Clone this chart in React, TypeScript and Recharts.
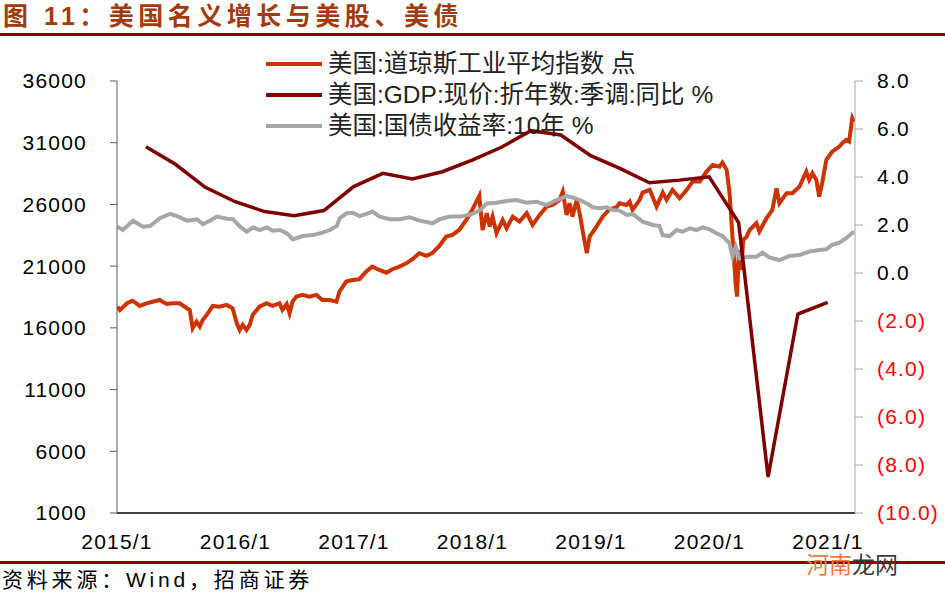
import React from "react";
import { LineChart, Line, XAxis, YAxis } from "recharts";

// 道琼斯工业平均指数（点）
const dowDates = [
  "2015-01-02", "2015-01-10", "2015-02-01", "2015-02-18", "2015-03-12", "2015-04-02", "2015-04-21",
  "2015-05-12", "2015-06-03", "2015-06-21", "2015-07-13", "2015-08-04", "2015-08-13", "2015-08-22",
  "2015-09-03", "2015-09-13", "2015-09-22", "2015-10-04", "2015-10-23", "2015-11-13", "2015-12-05",
  "2015-12-23", "2016-01-05", "2016-01-14", "2016-01-23", "2016-02-04", "2016-02-14", "2016-02-23",
  "2016-03-15", "2016-04-06", "2016-04-24", "2016-05-16", "2016-05-25", "2016-06-07", "2016-06-16",
  "2016-06-25", "2016-07-07", "2016-07-26", "2016-08-16", "2016-09-07", "2016-09-25", "2016-10-17",
  "2016-11-08", "2016-11-17", "2016-12-08", "2016-12-27", "2017-01-17", "2017-02-08", "2017-02-26",
  "2017-03-20", "2017-04-11", "2017-04-29", "2017-05-21", "2017-06-11", "2017-06-30", "2017-07-21",
  "2017-08-12", "2017-08-30", "2017-09-21", "2017-10-12", "2017-10-31", "2017-11-21", "2017-12-13",
  "2017-12-31", "2018-01-22", "2018-02-01", "2018-02-14", "2018-02-23", "2018-03-04", "2018-03-16",
  "2018-04-04", "2018-04-16", "2018-05-05", "2018-05-26", "2018-06-17", "2018-07-05", "2018-07-27",
  "2018-08-17", "2018-09-05", "2018-09-26", "2018-10-06", "2018-10-18", "2018-10-27", "2018-11-05",
  "2018-11-18", "2018-11-27", "2018-12-06", "2018-12-19", "2018-12-28", "2019-01-18", "2019-02-06",
  "2019-02-27", "2019-03-21", "2019-03-30", "2019-04-21", "2019-04-30", "2019-05-09", "2019-05-31",
  "2019-06-09", "2019-07-01", "2019-07-22", "2019-08-10", "2019-08-22", "2019-09-09", "2019-10-01",
  "2019-10-23", "2019-11-10", "2019-12-02", "2019-12-23", "2020-01-11", "2020-02-01", "2020-02-10",
  "2020-02-23", "2020-03-03", "2020-03-12", "2020-03-22", "2020-03-26", "2020-04-01", "2020-04-09",
  "2020-04-14", "2020-04-25", "2020-05-04", "2020-05-25", "2020-06-03", "2020-06-25", "2020-07-13",
  "2020-07-26", "2020-08-04", "2020-08-26", "2020-09-13", "2020-10-05", "2020-10-26", "2020-11-04",
  "2020-11-14", "2020-11-26", "2020-12-05", "2020-12-14", "2020-12-27", "2021-01-14", "2021-02-05",
  "2021-02-14", "2021-02-26", "2021-03-07", "2021-03-17", "2021-03-23",
];
const dowValues = [
  17720, 17450, 17990, 18200, 17775, 17990, 18120,
  18260, 17940, 17990, 17990, 17590, 17450, 15970,
  16500, 16100, 16640, 17040, 17775, 17720, 17860,
  17590, 16370, 15830, 16240, 15830, 16240, 17040,
  17720, 17990, 17775, 17990, 17450, 17940, 17180,
  18120, 18530, 18670, 18530, 18670, 18260, 18260,
  18120, 18930, 19750, 19880, 19940, 20560, 20960,
  20690, 20470, 20750, 20960, 21230, 21560, 22050,
  21830, 22050, 22640, 23400, 23530, 23930, 24740,
  25550, 26700, 23930, 25290, 24200, 25010, 23670,
  24740, 24070, 25010, 24610, 25290, 24340, 25150,
  25820, 25960, 26370, 27040, 25150, 26100, 25010,
  26370, 25290, 23930, 22050, 23400, 24200, 25010,
  25610, 25770, 26100, 25960, 26230, 25550, 26370,
  26960, 27180, 25820, 26960, 26370, 27180, 26500,
  27180, 27850, 27850, 28660, 29200, 29060, 29390,
  28800, 26910, 23390, 19500, 18530, 22310, 20690,
  23120, 23390, 23930, 24480, 23800, 24880, 25550,
  27310, 26100, 26910, 26910, 27450, 28660, 27990,
  28530, 27990, 26630, 27720, 29610, 30280, 30690,
  30960, 31230, 31090, 32990, 32680,
];

// GDP 现价折年数季调同比（%），季末
const gdpQuarters = [
  "2015-03-31", "2015-06-30", "2015-09-30", "2015-12-31",
  "2016-03-31", "2016-06-30", "2016-09-30", "2016-12-31",
  "2017-03-31", "2017-06-30", "2017-09-30", "2017-12-31",
  "2018-03-31", "2018-06-30", "2018-09-30", "2018-12-31",
  "2019-03-31", "2019-06-30", "2019-09-30", "2019-12-31",
  "2020-03-31", "2020-06-30", "2020-09-30", "2020-12-31",
];
const gdpValues = [
  5.26, 4.53, 3.57, 2.97,
  2.56, 2.39, 2.6, 3.6,
  4.15, 3.92, 4.22, 4.7,
  5.24, 5.93, 5.75, 4.89,
  4.36, 3.76, 3.87, 4.01,
  2.1, -8.5, -1.71, -1.22,
];

// 10年期国债收益率（%）
const yieldDates = [
  "2015-01-02", "2015-01-19", "2015-02-19", "2015-03-22", "2015-04-13", "2015-05-13", "2015-06-13",
  "2015-07-05", "2015-08-05", "2015-09-04", "2015-09-23", "2015-10-14", "2015-11-05", "2015-12-06",
  "2015-12-24", "2016-01-15", "2016-02-05", "2016-02-24", "2016-03-16", "2016-04-07", "2016-04-25",
  "2016-05-17", "2016-06-08", "2016-06-26", "2016-07-27", "2016-08-27", "2016-09-26", "2016-10-18",
  "2016-11-09", "2016-11-18", "2016-12-09", "2016-12-28", "2017-01-18", "2017-02-09", "2017-02-27",
  "2017-03-21", "2017-04-21", "2017-05-22", "2017-06-21", "2017-07-22", "2017-08-31", "2017-09-22",
  "2017-10-23", "2017-11-22", "2017-12-23", "2018-01-23", "2018-02-14", "2018-03-16", "2018-04-16",
  "2018-05-17", "2018-06-17", "2018-07-18", "2018-08-17", "2018-09-17", "2018-10-18", "2018-11-05",
  "2018-11-27", "2018-12-19", "2019-01-06", "2019-01-28", "2019-02-18", "2019-03-09", "2019-03-30",
  "2019-04-21", "2019-05-09", "2019-06-09", "2019-07-10", "2019-07-31", "2019-08-10", "2019-08-31",
  "2019-09-22", "2019-10-10", "2019-11-01", "2019-11-22", "2019-12-11", "2020-01-01", "2020-01-23",
  "2020-02-10", "2020-03-03", "2020-03-12", "2020-03-22", "2020-04-03", "2020-04-25", "2020-05-25",
  "2020-06-13", "2020-07-04", "2020-08-04", "2020-09-04", "2020-10-05", "2020-11-04", "2020-12-05",
  "2020-12-27", "2021-01-14", "2021-02-05", "2021-02-26", "2021-03-17", "2021-03-23",
];
const yieldValues = [
  1.93, 1.79, 2.18, 1.93, 1.96, 2.28, 2.46,
  2.37, 2.18, 2.24, 2.04, 2.18, 2.35, 2.26,
  2.24, 1.93, 1.72, 1.9, 1.79, 1.9, 1.76,
  1.79, 1.65, 1.4, 1.54, 1.58, 1.68, 1.79,
  1.96, 2.28, 2.49, 2.51, 2.37, 2.46, 2.56,
  2.35, 2.24, 2.24, 2.32, 2.18, 2.07, 2.24,
  2.35, 2.35, 2.42, 2.6, 2.9, 2.93, 3.0,
  3.04, 2.93, 2.97, 2.83, 3.04, 3.2, 3.15,
  3.04, 2.9, 2.74, 2.7, 2.74, 2.63, 2.6,
  2.42, 2.46, 2.14, 2.0, 1.96, 1.58, 1.54,
  1.79, 1.72, 1.86, 1.79, 1.9, 1.82, 1.65,
  1.54, 1.24, 0.68, 1.1, 0.61, 0.68, 0.68,
  0.85, 0.65, 0.54, 0.71, 0.75, 0.89, 0.96,
  0.99, 1.17, 1.26, 1.45, 1.68, 1.68,
];

const yearTicks = [2015, 2016, 2017, 2018, 2019, 2020, 2021];
const leftTicks = [1000, 6000, 11000, 16000, 21000, 26000, 31000, 36000];
const rightTicks = [-10, -8, -6, -4, -2, 0, 2, 4, 6, 8];

const DOW = "#CC3300";
const GDP = "#800000";
const YLD = "#A6A6A6";
const LATIN = "'Liberation Sans', Arial, 'Noto Sans CJK SC', sans-serif";

const toYear = (d: string) => {
  const [y, m, day] = d.split("-").map(Number);
  const start = Date.UTC(y, 0, 1);
  const end = Date.UTC(y + 1, 0, 1);
  return y + (Date.UTC(y, m - 1, day) - start) / (end - start);
};

const dowData = dowDates.map((d, i) => ({ x: toYear(d), v: dowValues[i] }));
const gdpData = gdpQuarters.map((d, i) => ({ x: toYear(d), v: gdpValues[i] }));
const yieldData = yieldDates.map((d, i) => ({ x: toYear(d), v: yieldValues[i] }));

const legendItems = [
  { label: "美国:道琼斯工业平均指数 点", color: DOW },
  { label: "美国:GDP:现价:折年数:季调:同比 %", color: GDP },
  { label: "美国:国债收益率:10年 %", color: YLD },
];

const tickStyle = { fontSize: 21, fill: "#000", fontFamily: LATIN, letterSpacing: 1.2 };

const RightTick = (props: any) => {
  const { x, y, payload } = props;
  const v = payload.value as number;
  const neg = v < 0;
  return (
    <text
      x={x}
      y={y}
      dy="0.355em"
      textAnchor="start"
      fill={neg ? "#FF0000" : "#000"}
      style={{ fontSize: 21, fontFamily: LATIN, letterSpacing: 1.2 }}
    >
      {neg ? `(${Math.abs(v).toFixed(1)})` : v.toFixed(1)}
    </text>
  );
};

export default function App() {
  return (
    <div
      style={{
        position: "absolute",
        left: 0,
        top: 0,
        width: 945,
        height: 594,
        background: "#fff",
        overflow: "hidden",
      }}
    >
      <div
        style={{
          position: "absolute",
          left: 3,
          top: 0,
          height: 33,
          lineHeight: "33px",
          fontSize: 25,
          fontWeight: 700,
          letterSpacing: 4.5,
          color: "#A33A0B",
          fontFamily: LATIN,
          whiteSpace: "nowrap",
        }}
      >
        图 11：美国名义增长与美股、美债
      </div>
      <div style={{ position: "absolute", left: 0, top: 33, width: 945, height: 3, background: "#8B0000" }} />

      <LineChart width={945} height={594} margin={{ top: 81, right: 0, bottom: 31, left: 0 }}>
        <XAxis
          type="number"
          dataKey="x"
          domain={[2015, 2021.228]}
          allowDataOverflow
          ticks={yearTicks}
          interval={0}
          tickFormatter={(v) => `${v}/1`}
          height={50}
          tickLine={false}
          tickSize={0}
          tickMargin={21}
          axisLine={{ stroke: "#000", strokeWidth: 1.5 }}
          tick={tickStyle}
        />
        <YAxis
          yAxisId="left"
          orientation="left"
          width={117}
          domain={[1000, 36000]}
          ticks={leftTicks}
          interval={0}
          tickSize={7}
          tickMargin={23}
          axisLine={{ stroke: "#595959" }}
          tickLine={{ stroke: "#595959" }}
          tick={tickStyle}
        />
        <YAxis
          yAxisId="right"
          orientation="right"
          width={90}
          domain={[-10, 8]}
          ticks={rightTicks}
          interval={0}
          tickSize={8}
          tickMargin={14}
          axisLine={{ stroke: "#A6A6A6" }}
          tickLine={{ stroke: "#A6A6A6" }}
          tick={<RightTick />}
        />
        <Line
          yAxisId="left"
          data={dowData}
          dataKey="v"
          type="linear"
          stroke={DOW}
          strokeWidth={4}
          dot={false}
          isAnimationActive={false}
        />
        <Line
          yAxisId="right"
          data={yieldData}
          dataKey="v"
          type="linear"
          stroke={YLD}
          strokeWidth={4}
          dot={false}
          isAnimationActive={false}
        />
        <Line
          yAxisId="right"
          data={gdpData}
          dataKey="v"
          type="linear"
          stroke={GDP}
          strokeWidth={3.5}
          dot={false}
          isAnimationActive={false}
        />
      </LineChart>

      {legendItems.map((item, i) => (
        <div
          key={item.label}
          style={{
            position: "absolute",
            left: 266,
            top: 48 + i * 31,
            height: 31,
            display: "flex",
            alignItems: "center",
            whiteSpace: "nowrap",
          }}
        >
          <span style={{ display: "inline-block", width: 56, height: 4, background: item.color, marginRight: 6 }} />
          <span style={{ fontSize: 24.5, fontFamily: LATIN, color: "#222", lineHeight: "31px" }}>{item.label}</span>
        </div>
      ))}

      <div style={{ position: "absolute", left: 0, top: 561, width: 945, height: 3, background: "#8B0000" }} />
      <div
        style={{
          position: "absolute",
          left: 2,
          top: 566,
          height: 28,
          lineHeight: "28px",
          fontSize: 21,
          letterSpacing: 3.8,
          color: "#000",
          fontFamily: LATIN,
          whiteSpace: "nowrap",
        }}
      >
        资料来源：Wind，招商证券
      </div>
      <div
        style={{
          position: "absolute",
          left: 806,
          top: 553,
          fontSize: 23,
          lineHeight: "24px",
          fontFamily: LATIN,
          whiteSpace: "nowrap",
        }}
      >
        <span style={{ color: "#EE7A44" }}>河南</span>
        <span style={{ color: "#3A3A3A" }}>龙网</span>
      </div>
    </div>
  );
}
